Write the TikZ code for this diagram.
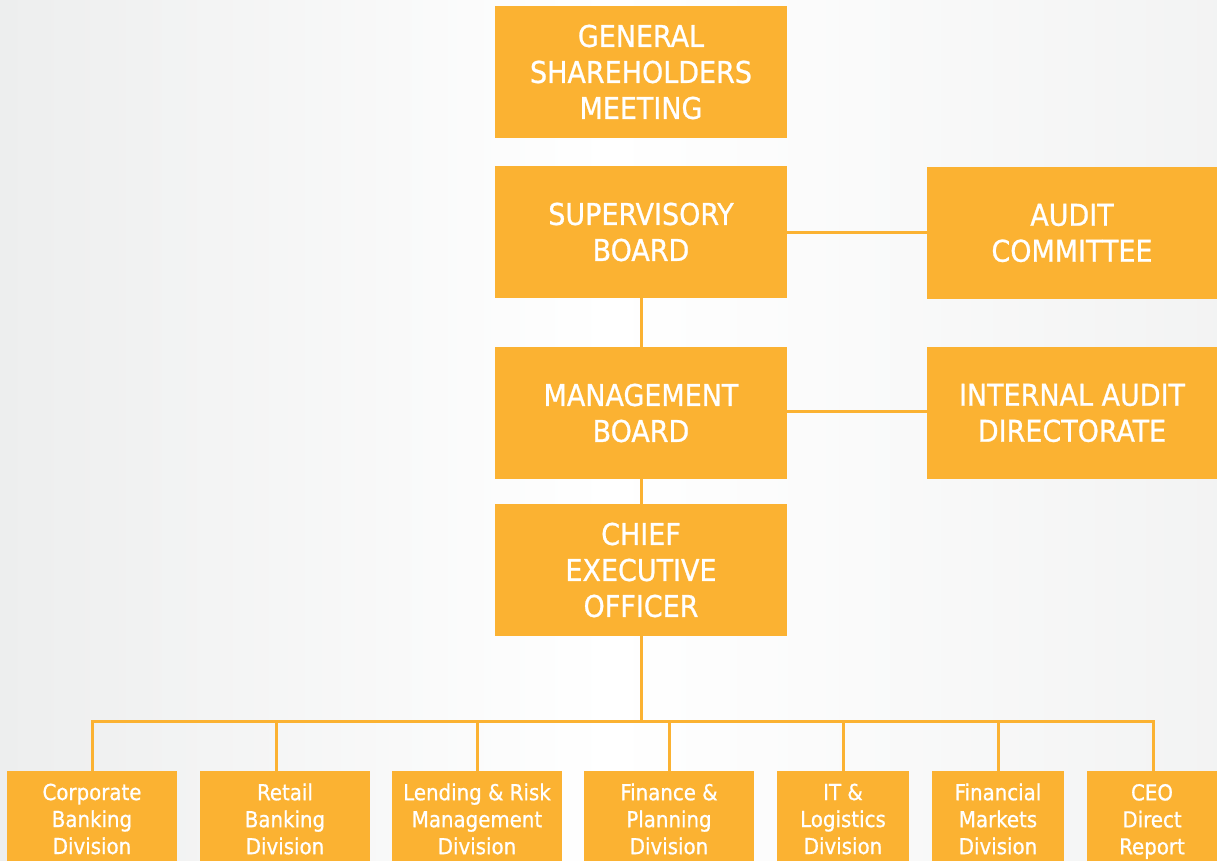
\documentclass[tikz,border=0pt]{standalone}
\usepackage{fontspec}
\setmainfont{DejaVu Sans Condensed}[BoldFont={DejaVu Sans Condensed},BoldFeatures={FakeBold=0.8}]
\definecolor{boxc}{HTML}{FBB232}
\definecolor{bgl}{HTML}{EDEEEE}
\begin{document}
\begin{tikzpicture}[x=1pt,y=-1pt,
  topbox/.style={fill=boxc,draw=none,minimum width=292pt,minimum height=132pt,inner sep=0pt,
    text=white,align=center,font=\fontsize{30}{36}\selectfont\bfseries},
  sidebox/.style={topbox,minimum width=290pt},
  divbox/.style={fill=boxc,draw=none,inner sep=0pt,minimum height=104pt,text=white},
  divtext/.style={text=white,align=center,font=\fontsize{22}{27}\selectfont\bfseries,inner sep=0pt},
  conn/.style={draw=boxc,line width=3pt}]
\useasboundingbox (0,0) rectangle (1217,860);
\clip (0,0) rectangle (1217,860);
\shade[left color=bgl,right color=bgl!70,middle color=white] (0,0) rectangle (1217,860);
% top column
\node[topbox] (gsm) at (641,72) {GENERAL\\SHAREHOLDERS\\MEETING};
\node[topbox] (sb) at (641,232) {SUPERVISORY\\BOARD};
\node[sidebox] (ac) at (1072,233) {AUDIT\\COMMITTEE};
\node[topbox] (mb) at (641,413) {MANAGEMENT\\BOARD};
\node[sidebox] (iad) at (1072,413) {INTERNAL AUDIT\\DIRECTORATE};
\node[topbox] (ceo) at (641,570) {CHIEF\\EXECUTIVE\\OFFICER};
% connectors
\draw[conn] (sb.south) -- (mb.north);
\draw[conn] (mb.south) -- (ceo.north);
\draw[conn] (sb.east |- 0,232) -- (ac.west |- 0,232);
\draw[conn] (mb.east |- 0,411) -- (iad.west |- 0,411);
\coordinate (busL) at (92,721);
\coordinate (busR) at (1153,721);
\coordinate (busC) at (641,721);
\draw[conn] (ceo.south) -- (busC);
\draw[conn,line cap=rect] (busL) -- (busR);
% division boxes
\node[divbox,minimum width=170pt,anchor=north west] (d1) at (7,771) {};
\node[divbox,minimum width=170pt,anchor=north west] (d2) at (200,771) {};
\node[divbox,minimum width=170pt,anchor=north west] (d3) at (392,771) {};
\node[divbox,minimum width=170pt,anchor=north west] (d4) at (584,771) {};
\node[divbox,minimum width=132pt,anchor=north west] (d5) at (777,771) {};
\node[divbox,minimum width=132pt,anchor=north west] (d6) at (932,771) {};
\node[divbox,minimum width=131pt,anchor=north west] (d7) at (1087,771) {};
\node[divtext] (t1) at (92,819) {Corporate\\Banking\\Division};
\node[divtext] (t2) at (285,819) {Retail\\Banking\\Division};
\node[divtext] (t3) at (477,819) {Lending \& Risk\\Management\\Division};
\node[divtext] (t4) at (669,819) {Finance \&\\Planning\\Division};
\node[divtext] (t5) at (843,819) {IT \&\\Logistics\\Division};
\node[divtext] (t6) at (998,819) {Financial\\Markets\\Division};
\node[divtext] (t7) at (1152,821.5) {CEO\\Direct\\Report};
% drops
\draw[conn] (92,721) -- (d1.north -| 92,0);
\draw[conn] (276,721) -- (d2.north -| 276,0);
\draw[conn] (477,721) -- (d3.north -| 477,0);
\draw[conn] (669,721) -- (d4.north -| 669,0);
\draw[conn] (843,721) -- (d5.north -| 843,0);
\draw[conn] (998,721) -- (d6.north -| 998,0);
\draw[conn] (1153,721) -- (d7.north -| 1153,0);
\end{tikzpicture}
\end{document}
